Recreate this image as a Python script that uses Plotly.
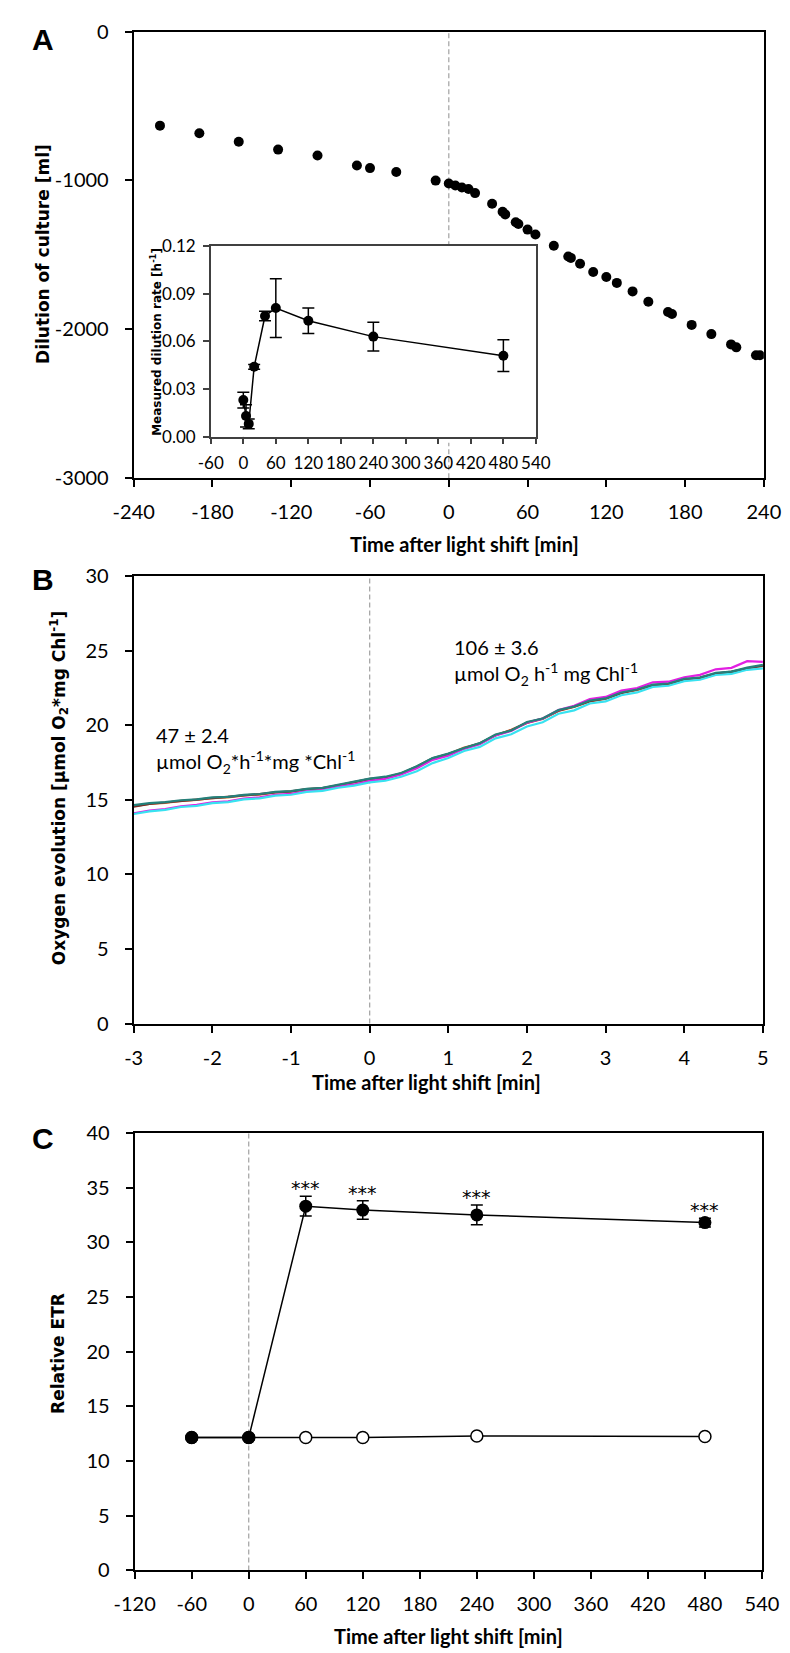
import plotly.graph_objects as go

W, H = 790, 1653


def px_x(p):
    return p / W


def px_y(p):
    return 1 - p / H


# ---------------- Panel A: dilution of culture ----------------
a_time = [-220, -190, -160, -130, -100, -70, -60, -40, -10,
          0, 5, 10, 15, 20,
          33, 41, 43, 51, 53, 60, 66,
          80, 91, 93, 100, 110, 120, 128,
          140, 152, 167, 170, 185, 200, 215, 219, 234, 237]
a_dilution = [-632, -683, -740, -793, -833, -899, -917, -943, -1001,
              -1021, -1034, -1047, -1058, -1085,
              -1157, -1210, -1228, -1281, -1292, -1330, -1363,
              -1438, -1511, -1520, -1560, -1615, -1648, -1688,
              -1745, -1814, -1884, -1897, -1970, -2032, -2101, -2121, -2174, -2174]
a_xticks = [-240, -180, -120, -60, 0, 60, 120, 180, 240]
a_xticklabels = ["-240", "-180", "-120", "-60", "0", "60", "120", "180", "240"]
a_yticks = [0, -1000, -2000, -3000]
a_yticklabels = ["0", "-1000", "-2000", "-3000"]

# Inset: measured dilution rate
inset_time = [0, 5, 10, 20, 40, 60, 120, 240, 480]
inset_rate = [0.023, 0.013, 0.008, 0.044, 0.076, 0.081, 0.073, 0.063, 0.051]
inset_err = [0.005, 0.007, 0.003, 0.0015, 0.003, 0.0185, 0.008, 0.009, 0.010]
inset_xticks = [-60, 0, 60, 120, 180, 240, 300, 360, 420, 480, 540]
inset_xticklabels = ["-60", "0", "60", "120", "180", "240", "300", "360", "420", "480", "540"]
inset_yticks = [0, 0.03, 0.06, 0.09, 0.12]
inset_yticklabels = ["0.00", "0.03", "0.06", "0.09", "0.12"]

# ---------------- Panel B: oxygen evolution traces ----------------
b_time = [-3.0, -2.8, -2.6, -2.4, -2.2, -2.0, -1.8, -1.6, -1.4, -1.2, -1.0,
          -0.8, -0.6, -0.4, -0.2, 0.0, 0.2, 0.4, 0.6, 0.8, 1.0,
          1.2, 1.4, 1.6, 1.8, 2.0, 2.2, 2.4, 2.6, 2.8, 3.0,
          3.2, 3.4, 3.6, 3.8, 4.0, 4.2, 4.4, 4.6, 4.8, 5.0]
b_orange = [14.58, 14.72, 14.79, 14.93, 14.99, 15.12, 15.16, 15.30, 15.35, 15.49, 15.55,
            15.70, 15.77, 15.97, 16.14, 16.37, 16.47, 16.75, 17.22, 17.76, 18.05,
            18.50, 18.76, 19.32, 19.70, 20.16, 20.42, 20.96, 21.22, 21.60, 21.76,
            22.16, 22.36, 22.66, 22.76, 23.06, 23.16, 23.46, 23.56, 23.82, 23.98]
b_darkred = [14.55, 14.73, 14.82, 14.94, 15.02, 15.12, 15.19, 15.31, 15.38, 15.50, 15.57,
             15.72, 15.79, 15.98, 16.17, 16.40, 16.49, 16.77, 17.24, 17.78, 18.07,
             18.46, 18.79, 19.33, 19.67, 20.17, 20.45, 20.97, 21.26, 21.62, 21.80,
             22.16, 22.40, 22.68, 22.80, 23.06, 23.20, 23.46, 23.60, 23.82, 24.00]
b_magenta = [14.10, 14.27, 14.38, 14.57, 14.66, 14.83, 14.90, 15.08, 15.16, 15.33, 15.40,
             15.58, 15.66, 15.88, 16.03, 16.27, 16.40, 16.70, 17.12, 17.68, 17.95,
             18.42, 18.72, 19.32, 19.62, 20.18, 20.44, 21.02, 21.30, 21.76, 21.90,
             22.32, 22.50, 22.88, 22.92, 23.22, 23.38, 23.75, 23.85, 24.30, 24.25]
b_cyan = [14.05, 14.22, 14.33, 14.52, 14.60, 14.78, 14.85, 15.03, 15.10, 15.28, 15.34,
          15.53, 15.60, 15.81, 15.95, 16.17, 16.28, 16.55, 16.92, 17.46, 17.80,
          18.27, 18.55, 19.12, 19.40, 19.92, 20.20, 20.77, 21.00, 21.46, 21.60,
          22.01, 22.20, 22.57, 22.65, 22.96, 23.05, 23.37, 23.45, 23.72, 23.82]
b_teal = [14.65, 14.78, 14.84, 14.97, 15.03, 15.16, 15.20, 15.33, 15.39, 15.53, 15.58,
          15.74, 15.80, 16.00, 16.20, 16.42, 16.55, 16.80, 17.25, 17.80, 18.10,
          18.48, 18.80, 19.38, 19.65, 20.22, 20.45, 21.02, 21.25, 21.66, 21.80,
          22.20, 22.40, 22.72, 22.80, 23.12, 23.20, 23.52, 23.60, 23.86, 24.05]
b_series = [("orange", b_orange, "#E2793A"),
            ("darkred", b_darkred, "#7A2A24"),
            ("magenta", b_magenta, "#E21FE2"),
            ("cyan", b_cyan, "#38E2F0"),
            ("teal", b_teal, "#25807A")]
b_xticks = [-3, -2, -1, 0, 1, 2, 3, 4, 5]
b_xticklabels = ["-3", "-2", "-1", "0", "1", "2", "3", "4", "5"]

# ---------------- Panel C: relative ETR ----------------
c_time = [-60, 0, 60, 120, 240, 480]
c_high = [12.15, 12.15, 33.3, 32.95, 32.5, 31.8]
c_high_err = [0.2, 0.2, 0.9, 0.85, 0.9, 0.4]
c_control = [12.15, 12.15, 12.15, 12.15, 12.3, 12.25]
c_sig = ["", "", "***", "***", "***", "***"]
c_xticks = [-120, -60, 0, 60, 120, 180, 240, 300, 360, 420, 480, 540]
c_xticklabels = ["-120", "-60", "0", "60", "120", "180", "240", "300", "360", "420",
                 "480", "540"]

TICK_FONT = "Lato, 'Open Sans', sans-serif"
YT_FONT = "'DejaVu Sans', Verdana, sans-serif"
PANEL_FONT = "'Liberation Sans', Arial, sans-serif"

fig = go.Figure()

# Panel A main
fig.add_trace(go.Scatter(x=a_time, y=a_dilution, mode="markers",
                         marker=dict(size=10, color="black"),
                         xaxis="x", yaxis="y", hoverinfo="skip"))
# Inset
fig.add_trace(go.Scatter(x=inset_time, y=inset_rate, mode="lines+markers",
                         line=dict(color="black", width=1.5),
                         marker=dict(size=10, color="black"),
                         error_y=dict(type="data", array=inset_err, color="black",
                                      thickness=1.5, width=6),
                         xaxis="x2", yaxis="y2", hoverinfo="skip"))
# Panel B
for name, vals, col in b_series:
    fig.add_trace(go.Scatter(x=b_time, y=vals, mode="lines", name=name,
                             line=dict(color=col, width=2.2),
                             xaxis="x3", yaxis="y3", hoverinfo="skip"))
# Panel C
fig.add_trace(go.Scatter(x=c_time, y=c_control, mode="lines+markers",
                         line=dict(color="black", width=1.5),
                         marker=dict(size=12, color="white",
                                     line=dict(color="black", width=1.5)),
                         xaxis="x4", yaxis="y4", hoverinfo="skip"))
fig.add_trace(go.Scatter(x=c_time, y=c_high, mode="lines+markers",
                         line=dict(color="black", width=1.5),
                         marker=dict(size=13, color="black"),
                         error_y=dict(type="data", array=c_high_err, color="black",
                                      thickness=1.5, width=6),
                         xaxis="x4", yaxis="y4", hoverinfo="skip"))


def axis(domain, rng, tickvals, ticktext, anchor, fsize=20, lw=2, lcol="black",
         ticklen=7, standoff=10):
    return dict(domain=domain, range=rng, tickmode="array", tickvals=tickvals,
                ticktext=ticktext, anchor=anchor,
                showline=True, linecolor=lcol, linewidth=lw, mirror=True,
                ticks="outside", ticklen=ticklen, tickwidth=1.5, tickcolor=lcol,
                showgrid=False, zeroline=False, fixedrange=True,
                ticklabelstandoff=standoff,
                tickfont=dict(family=TICK_FONT, size=fsize, color="black"))


c_yticks = [0, 5, 10, 15, 20, 25, 30, 35, 40]
b_yticks = [0, 5, 10, 15, 20, 25, 30]

layout = dict(
    width=W, height=H, margin=dict(l=0, r=0, t=0, b=0),
    paper_bgcolor="white", plot_bgcolor="white", showlegend=False,
    xaxis=axis([px_x(110), px_x(772)], [-240, 240], a_xticks, a_xticklabels, "y",
               standoff=8),
    yaxis=axis([px_y(464), px_y(10.7)], [-3000, 0], a_yticks, a_yticklabels, "x",
               standoff=12),
    xaxis2=axis([px_x(191), px_x(532.5)], [-60, 540], inset_xticks, inset_xticklabels,
                "y2", fsize=17, lw=1.5, lcol="#404040", ticklen=6, standoff=4),
    yaxis2=axis([px_y(421.7), px_y(228.5)], [0, 0.12], inset_yticks, inset_yticklabels,
                "x2", fsize=17, lw=1.5, lcol="#404040", ticklen=6, standoff=4),
    xaxis3=axis([px_x(110), px_x(771)], [-3, 5], b_xticks, b_xticklabels, "y3",
                standoff=8),
    yaxis3=axis([px_y(1017.3), px_y(563.3)], [0, 30], b_yticks,
                [str(v) for v in b_yticks], "x3", standoff=12),
    xaxis4=axis([px_x(111), px_x(770)], [-120, 540], c_xticks, c_xticklabels, "y4",
                standoff=8),
    yaxis4=axis([px_y(1572.3), px_y(1128.3)], [0, 40], c_yticks,
                [str(v) for v in c_yticks], "x4", standoff=12),
)
fig.update_layout(**layout)

dash_line = dict(color="#A8A8A8", width=1.3, dash="5px,3px")
shapes = [
    # panel A (split around the inset)
    dict(type="line", xref="x", x0=0, x1=0, yref="paper",
         y0=px_y(228.5), y1=px_y(10.7), line=dash_line),
    dict(type="line", xref="x", x0=0, x1=0, yref="paper",
         y0=px_y(464), y1=px_y(428), line=dash_line),
    dict(type="line", xref="x2", x0=0, x1=0, yref="y2 domain", y0=0, y1=1, line=dash_line),
    dict(type="line", xref="x3", x0=0, x1=0, yref="y3 domain", y0=0, y1=1, line=dash_line),
    dict(type="line", xref="x4", x0=0, x1=0, yref="y4 domain", y0=0, y1=1, line=dash_line),
]
for s in shapes:
    s["layer"] = "below"
fig.update_layout(shapes=shapes)

ann = []


def text(x, y, t, size, family, xanchor="center", yanchor="middle", angle=0):
    ann.append(dict(xref="paper", yref="paper", x=px_x(x), y=px_y(y), text=t,
                    showarrow=False, xanchor=xanchor, yanchor=yanchor, textangle=angle,
                    font=dict(family=family, size=size, color="black")))


# panel letters
text(1, 19, "<b>A</b>", 30, PANEL_FONT, xanchor="left")
text(1, 567, "<b>B</b>", 30, PANEL_FONT, xanchor="left")
text(1, 1134, "<b>C</b>", 30, PANEL_FONT, xanchor="left")

# x titles
text(457, 531, "<b>Time after light shift [min]</b>", 20, TICK_FONT)
text(418, 1077, "<b>Time after light shift [min]</b>", 20, TICK_FONT)
text(441, 1639, "<b>Time after light shift [min]</b>", 20, TICK_FONT)

# y titles
text(14, 236, "<b>Dilution of culture [ml]</b>", 17, YT_FONT, angle=-90)
text(32, 778, "<b>Oxygen evolution [µmol O<sub>2</sub>*mg Chl<sup>-1</sup>]</b>", 17,
     YT_FONT, angle=-90)
text(31, 1352, "<b>Relative ETR</b>", 17, YT_FONT, angle=-90)
text(134, 326, "<b>Measured dilution rate [h<sup>-1</sup>]</b>", 12, YT_FONT, angle=-90)

# panel B rate annotations
text(444, 635, "106 ± 3.6", 20, TICK_FONT, xanchor="left")
text(444, 663, "µmol O<sub>2</sub> h<sup>-1</sup> mg Chl<sup>-1</sup>", 20, TICK_FONT,
     xanchor="left")
text(131, 725, "47 ± 2.4", 20, TICK_FONT, xanchor="left")
text(131, 752, "µmol O<sub>2</sub>*h<sup>-1</sup>*mg *Chl<sup>-1</sup>", 20, TICK_FONT,
     xanchor="left")

# significance stars in panel C
for xv, yv, ev, s in zip(c_time, c_high, c_high_err, c_sig):
    if s:
        ann.append(dict(xref="x4", yref="y4", x=xv, y=yv + ev, text=s, showarrow=False,
                        xanchor="center", yanchor="middle", yshift=8,
                        font=dict(family=YT_FONT, size=19, color="black")))

fig.update_layout(annotations=ann)
fig.write_html("out.html")
